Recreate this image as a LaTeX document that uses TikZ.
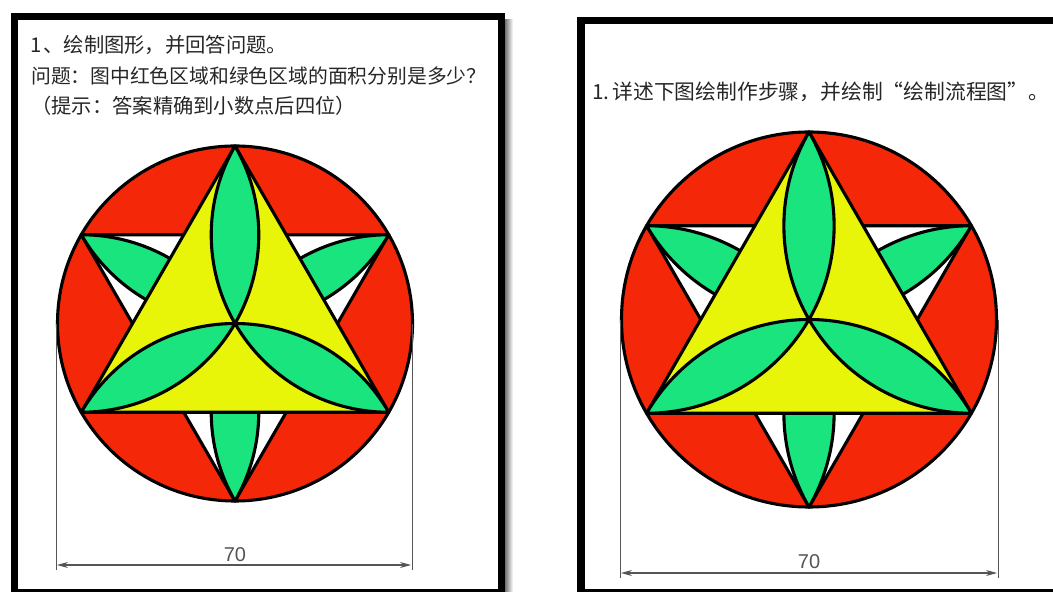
\documentclass[tikz,border=0pt]{standalone}
\usepackage{fontspec}
\setmainfont{Noto Sans CJK SC}
\setsansfont{Liberation Sans}
\definecolor{fillred}{HTML}{F42808}
\definecolor{fillyellow}{HTML}{E8F508}
\definecolor{fillgreen}{HTML}{1AE47E}
\definecolor{dimgray}{HTML}{555555}
\usetikzlibrary{arrows.meta}
\tikzset{
  x=1pt,y=1pt,
  outline/.style={draw=black,line width=3.1pt,line join=round},
  framebar/.style={fill=black},
  dimext/.style={draw=dimgray,line width=1pt},
  dimline/.style={draw=dimgray,line width=1.1pt,{Stealth[length=11pt,width=6pt]}-{Stealth[length=11pt,width=6pt]},shorten <=1pt,shorten >=1pt},
  dimtext/.style={font=\sffamily\fontsize{20}{20}\selectfont,text=dimgray,inner sep=0pt,anchor=center},
  cjktext/.style={inner sep=0pt,anchor=base west,text=black!85}
}
% lens between the centre and a point at angle #1, radius #2
\newcommand{\lenspath}[2]{(0,0) arc[start angle=#1+240,delta angle=60,radius=#2] arc[start angle=#1+60,delta angle=60,radius=#2] -- cycle}
\newcommand{\emblem}[3]{%
  \begin{scope}[shift={(#1,#2)}]
    \fill[fillred,outline] (0,0) circle[radius=#3];
    \filldraw[fill=white,outline] (150:#3) -- (30:#3) -- (270:#3) -- cycle;
    \filldraw[fill=fillgreen,outline] \lenspath{30}{#3};
    \filldraw[fill=fillgreen,outline] \lenspath{150}{#3};
    \filldraw[fill=fillgreen,outline] \lenspath{270}{#3};
    \filldraw[fill=fillyellow,outline] (90:#3) -- (210:#3) -- (330:#3) -- cycle;
    \filldraw[fill=fillgreen,outline] \lenspath{90}{#3};
    \filldraw[fill=fillgreen,outline] \lenspath{210}{#3};
    \filldraw[fill=fillgreen,outline] \lenspath{330}{#3};
  \end{scope}}
\begin{document}
\begin{tikzpicture}
\useasboundingbox (0,0) rectangle (1053,592);
\fill[white] (0,0) rectangle (1053,592);
% left panel
\shade[left color=black!55,right color=white] (505,0) rectangle (513,572);
\fill[framebar] (11,0) rectangle (505,579);
\fill[white] (18,3) rectangle (498,572);
% right panel
\fill[framebar] (577,0) rectangle (1053,575);
\fill[white] (585,3) rectangle (1053,568);
% left texts
\node[cjktext,font=\fontsize{20.3}{24}\selectfont] (a1) at (30,539) {1\hspace{2pt}、绘制图形，并回答问题。};
\node[cjktext,font=\fontsize{19.8}{24}\selectfont] (a2) at (31,508) {问题：图中红色区域和绿色区域的面积分别是多少？};
\node[cjktext,font=\fontsize{20.3}{24}\selectfont] (a3) at (31,478) {（提示：答案精确到小数点后四位）};
% right text
\node[cjktext,font=\fontsize{20.8}{24}\selectfont] (b1) at (592,492) {1.\hspace{3pt}详述下图绘制作步骤，并绘制“绘制流程图”。};
% left emblem
\emblem{235}{268.5}{177.5}
\coordinate (la) at (56,268);
\coordinate (lb) at (412,268);
\coordinate (lc) at (56,22);
\coordinate (ld) at (412,22);
\coordinate (le) at (56,27);
\coordinate (lf) at (412,27);
\draw[dimext] (la) -- (lc);
\draw[dimext] (lb) -- (ld);
\draw[dimline] (le) -- (lf);
\node[dimtext] (lt) at (235,37) {70};
% right emblem
\emblem{809}{272.5}{187.5}
\coordinate (ra) at (620,272);
\coordinate (rb) at (998,272);
\coordinate (rc) at (620,14);
\coordinate (rd) at (998,14);
\coordinate (re) at (620,19);
\coordinate (rf) at (998,19);
\draw[dimext] (ra) -- (rc);
\draw[dimext] (rb) -- (rd);
\draw[dimline] (re) -- (rf);
\node[dimtext] (rt) at (809,30) {70};
\end{tikzpicture}
\end{document}
